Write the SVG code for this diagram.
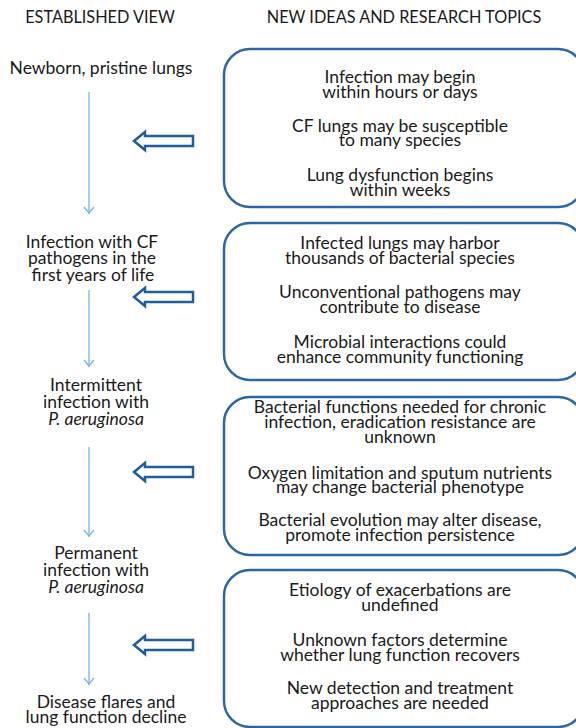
<svg xmlns="http://www.w3.org/2000/svg" width="576" height="728" viewBox="0 0 576 728">
<defs>
<style>
text{font-family:Lato,"Liberation Sans",sans-serif;fill:#1a1a1a;text-anchor:middle}
.h{font-size:16.3px}
.t{font-size:17.5px}
.box{fill:none;stroke:#2b67a6;stroke-width:2.5}
.blk{fill:#fff;stroke:#1f5d9e;stroke-width:2.5;stroke-linejoin:miter}
.v{stroke:#78b2ee;stroke-width:1.3;fill:none}
.i{font-style:italic}
</style>
</defs>
<rect width="576" height="728" fill="#fff"/>
<g id="headers">
<text class="h" x="100" y="23">ESTABLISHED VIEW</text>
<text class="h" x="404" y="23">NEW IDEAS AND RESEARCH TOPICS</text>
</g>
<g id="connectors">
<line class="v" x1="89" y1="92" x2="89" y2="214"/>
<path class="v" d="M84,207 L89,213 L94,207"/>
<line class="v" x1="89" y1="290" x2="89" y2="367"/>
<path class="v" d="M84,360 L89,366 L94,360"/>
<line class="v" x1="89" y1="447" x2="89" y2="537"/>
<path class="v" d="M84,530 L89,536 L94,530"/>
<line class="v" x1="89" y1="613" x2="89" y2="685"/>
<path class="v" d="M84,678 L89,684 L94,678"/>
<path class="blk" d="M134,141 L145,132 L145,136 L193,136 L193,146 L145,146 L145,150 Z"/>
<path class="blk" d="M134,297 L145,288 L145,292 L193,292 L193,302 L145,302 L145,306 Z"/>
<path class="blk" d="M134,472 L145,463 L145,467 L193,467 L193,477 L145,477 L145,481 Z"/>
<path class="blk" d="M134,645 L145,636 L145,640 L193,640 L193,650 L145,650 L145,654 Z"/>
</g>
<g id="n1"><text class="t" x="101" y="74">Newborn, pristine lungs</text></g>
<g id="n2">
<text class="t" x="92" y="248">Infection with CF</text>
<text class="t" x="92" y="264">pathogens in the</text>
<text class="t" x="93" y="281">first years of life</text>
</g>
<g id="n3">
<text class="t" x="96" y="391">Intermittent</text>
<text class="t" x="96" y="408">infection with</text>
<text class="t i" x="96" y="425">P. aeruginosa</text>
</g>
<g id="n4">
<text class="t" x="96" y="559">Permanent</text>
<text class="t" x="96" y="576">infection with</text>
<text class="t i" x="96" y="593">P. aeruginosa</text>
</g>
<g id="n5">
<text class="t" x="106" y="708">Disease flares and</text>
<text class="t" x="106" y="723">lung function decline</text>
</g>
<g id="b1">
<rect class="box" x="224" y="49" width="360" height="158" rx="26"/>
<text class="t" x="400" y="83">Infection may begin</text>
<text class="t" x="400" y="98">within hours or days</text>
<text class="t" x="400" y="132">CF lungs may be susceptible</text>
<text class="t" x="400" y="146">to many species</text>
<text class="t" x="400" y="181">Lung dysfunction begins</text>
<text class="t" x="400" y="196">within weeks</text>
</g>
<g id="b2">
<rect class="box" x="224" y="223" width="360" height="157" rx="26"/>
<text class="t" x="400" y="249">Infected lungs may harbor</text>
<text class="t" x="400" y="264">thousands of bacterial species</text>
<text class="t" x="400" y="298">Unconventional pathogens may</text>
<text class="t" x="400" y="313">contribute to disease</text>
<text class="t" x="400" y="348">Microbial interactions could</text>
<text class="t" x="400" y="363">enhance community functioning</text>
</g>
<g id="b3">
<rect class="box" x="224" y="397" width="360" height="158" rx="26"/>
<text class="t" x="400" y="413">Bacterial functions needed for chronic</text>
<text class="t" x="400" y="428">infection, eradication resistance are</text>
<text class="t" x="400" y="443">unknown</text>
<text class="t" x="400" y="479">Oxygen limitation and sputum nutrients</text>
<text class="t" x="400" y="493">may change bacterial phenotype</text>
<text class="t" x="400" y="526">Bacterial evolution may alter disease,</text>
<text class="t" x="400" y="541">promote infection persistence</text>
</g>
<g id="b4">
<rect class="box" x="224" y="570" width="360" height="157" rx="26"/>
<text class="t" x="400" y="596">Etiology of exacerbations are</text>
<text class="t" x="400" y="611">undefined</text>
<text class="t" x="400" y="646">Unknown factors determine</text>
<text class="t" x="400" y="661">whether lung function recovers</text>
<text class="t" x="400" y="694">New detection and treatment</text>
<text class="t" x="400" y="709">approaches are needed</text>
</g>
</svg>
